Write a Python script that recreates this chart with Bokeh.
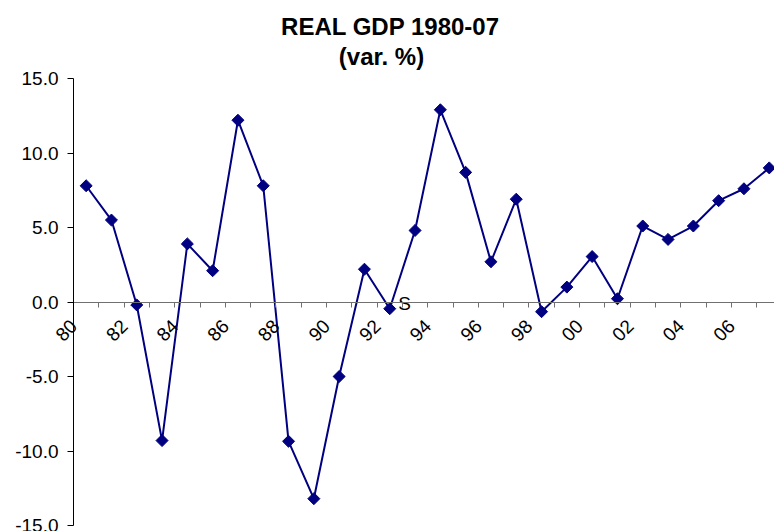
import math
from bokeh.plotting import figure
from bokeh.models import FixedTicker, Range1d, PrintfTickFormatter, Label
from bokeh.core.properties import value
from bokeh.embed import file_html
from bokeh.resources import INLINE

# ---- data ----
years = ["80", "81", "82", "83", "84", "85", "86", "87", "88", "89",
         "90", "91", "92", "93", "94", "95", "96", "97", "98", "99",
         "00", "01", "02", "03", "04", "05", "06", "07"]
gdp = [7.8, 5.5, -0.2, -9.3, 3.9, 2.1, 12.2, 7.8, -9.35, -13.2,
       -5.0, 2.2, -0.45, 4.8, 12.9, 8.7, 2.7, 6.9, -0.65, 1.0,
       3.05, 0.22, 5.1, 4.2, 5.1, 6.8, 7.6, 9.0]
y_ticks = [-15, -10, -5, 0, 5, 10, 15]
y_min, y_max = -15, 15
title_main = "REAL GDP 1980-07"
title_sub = "(var. %)"
stray_label = "S"
stray_year = "92"

FONT = "Liberation Sans"
NAVY = "#000080"

W, H = 774, 531
# plot-area geometry (pixels) measured on the reference
AX_LEFT, AX_TOP, AX_BOTTOM = 73, 78, 525
PX_PER_CAT = 25.3

idx = list(range(len(years)))
label_idx = idx[::2]
boundaries = [i + 0.5 for i in idx[:-1]]
label_pos = [i - 0.49 for i in label_idx]

# the frame covers the whole canvas; axes are pinned inside it
x0 = -0.5 - AX_LEFT / PX_PER_CAT
x1 = x0 + W / PX_PER_CAT
py = (AX_BOTTOM - AX_TOP) / (y_max - y_min)
y1 = y_max + AX_TOP / py
y0 = y_min - (H - AX_BOTTOM) / py

p = figure(width=W, height=H,
           x_range=Range1d(x0, x1), y_range=Range1d(y0, y1),
           output_backend="svg", toolbar_location=None,
           min_border_left=0, min_border_right=0,
           min_border_top=0, min_border_bottom=0)
p.title.visible = False
p.outline_line_color = None
p.grid.visible = False
p.background_fill_color = "white"
p.border_fill_color = "white"

# y axis pinned at the left edge of the first category
ya = p.yaxis[0]
ya.fixed_location = -0.5
ya.bounds = (y_min, y_max)
ya.ticker = FixedTicker(ticks=y_ticks)
ya.formatter = PrintfTickFormatter(format="%.1f")
ya.major_label_text_font = FONT
ya.major_label_text_font_size = "19px"
ya.major_label_text_color = "black"
ya.major_label_standoff = 9
ya.major_tick_out = 6
ya.major_tick_in = 0
ya.minor_tick_line_color = None
ya.axis_line_color = "black"
ya.major_tick_line_color = "black"

# x axis pinned at y = 0: tick marks at category edges, rotated year labels
xa = p.xaxis[0]
xa.fixed_location = 0
xa.bounds = (-0.5, x1)
xa.ticker = FixedTicker(ticks=label_pos, minor_ticks=boundaries)
xa.major_label_overrides = {pos: years[i] for pos, i in zip(label_pos, label_idx)}
xa.major_label_orientation = math.pi / 4
xa.major_label_text_font = FONT
xa.major_label_text_font_size = "19px"
xa.major_label_text_color = "black"
xa.major_label_standoff = 16
xa.major_tick_line_color = None
xa.major_tick_out = 0
xa.major_tick_in = 0
xa.minor_tick_out = 5
xa.minor_tick_in = 0
xa.minor_tick_line_color = "#707070"
xa.axis_line_color = "#707070"

# titles (screen units, y measured from the bottom)
p.add_layout(Label(x=390, y=H - 26, x_units="screen", y_units="screen",
                   text=title_main, text_align="center", text_baseline="alphabetic",
                   text_font=FONT, text_font_size="24px", text_font_style="bold",
                   text_color="black"))
p.add_layout(Label(x=381, y=H - 56, x_units="screen", y_units="screen",
                   text=title_sub, text_align="center", text_baseline="alphabetic",
                   text_font=FONT, text_font_size="24px", text_font_style="bold",
                   text_color="black"))

# series
p.line(idx, gdp, line_color=NAVY, line_width=2)
p.scatter(idx, gdp, marker="square", angle=math.pi / 4, size=8.5,
          fill_color=NAVY, line_color=NAVY)

# stray data label
si = years.index(stray_year)
p.text(x=[si], y=[gdp[si]], text=[stray_label],
       text_align="left", text_baseline="middle", x_offset=8.5, y_offset=-5,
       text_font=value(FONT), text_font_size="19px", text_color="black")

open("out.html", "w").write(file_html(p, INLINE))
